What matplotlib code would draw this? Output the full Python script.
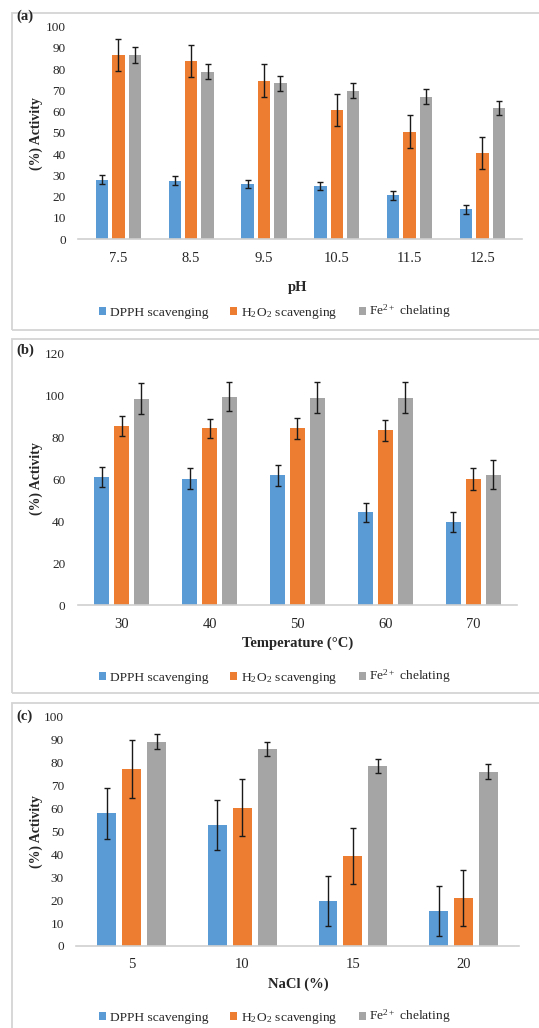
import numpy as np
import matplotlib.pyplot as plt
from matplotlib.patches import Rectangle

plt.rcParams['font.family'] = ['Liberation Serif', 'DejaVu Serif']
plt.rcParams['mathtext.fontset'] = 'stix'

# Panel (a): pH
ph_labels = ['7.5', '8.5', '9.5', '10.5', '11.5', '12.5']
ph_dpph = [28, 27.5, 26, 25, 20.5, 14]
ph_dpph_err = [2, 2, 2, 2, 2, 2]
ph_h2o2 = [86.7, 83.8, 74.6, 60.8, 50.6, 40.5]
ph_h2o2_err = [7.5, 7.6, 7.8, 7.6, 7.8, 7.6]
ph_fe = [86.7, 78.8, 73.3, 69.9, 67, 61.9]
ph_fe_err = [3.8, 3.6, 3.5, 3.4, 3.6, 3.3]

# Panel (b): temperature
temp_labels = ['30', '40', '50', '60', '70']
temp_dpph = [60.9, 60.3, 61.8, 44.2, 39.6]
temp_dpph_err = [4.8, 4.9, 5.0, 4.6, 4.6]
temp_h2o2 = [85.4, 84.3, 84.3, 83.3, 60.1]
temp_h2o2_err = [4.6, 4.6, 5.0, 5.0, 5.2]
temp_fe = [98.4, 99.4, 98.9, 98.9, 62.2]
temp_fe_err = [7.5, 7.1, 7.5, 7.2, 7.0]

# Panel (c): NaCl
nacl_labels = ['5', '10', '15', '20']
nacl_dpph = [57.8, 52.8, 19.6, 15.3]
nacl_dpph_err = [11, 11, 11, 11]
nacl_h2o2 = [77.2, 60.3, 39.2, 20.8]
nacl_h2o2_err = [12.5, 12.4, 12.2, 12.2]
nacl_fe = [89.1, 85.8, 78.5, 76]
nacl_fe_err = [3.2, 3.0, 3.0, 3.2]

series_names = ['DPPH scavenging', r'H$_\mathregular{2}$O$_\mathregular{2}$ scavenging',
                r'Fe$^\mathregular{{2+}}$ chelating']
colors = ['#5B9BD5', '#ED7D31', '#A5A5A5']

W, H = 539, 1028
fig = plt.figure(figsize=(W / 100, H / 100), dpi=100)


def fx(px):
    return px / W


def fy(py):
    return 1 - py / H


# light frames round each panel
frame_color = '#d4d4d4'
for top, bottom in [(13, 330), (339, 693), (703, 1100)]:
    fig.patches.append(Rectangle((fx(12), fy(bottom)), 1.2, fy(top) - fy(bottom),
                                 transform=fig.transFigure, fill=False,
                                 edgecolor=frame_color, linewidth=1.3))

panels = [
    # labels, data, ymax, yticks, axes box px (left, right, y0, ytop), xlim, xlabel, label y, tag
    (ph_labels, [(ph_dpph, ph_dpph_err), (ph_h2o2, ph_h2o2_err), (ph_fe, ph_fe_err)],
     100, np.arange(0, 101, 10), (78.3, 522.4, 239, 26.7), (-0.55, 5.55), 'pH',
     (134, 287, 312), '(a)', 16),
    (temp_labels, [(temp_dpph, temp_dpph_err), (temp_h2o2, temp_h2o2_err), (temp_fe, temp_fe_err)],
     120, np.arange(0, 121, 20), (77.75, 517.2, 605, 353.3), (-0.5, 4.5), 'Temperature (°C)',
     (479, 643, 677), '(b)', 350),
    (nacl_labels, [(nacl_dpph, nacl_dpph_err), (nacl_h2o2, nacl_h2o2_err), (nacl_fe, nacl_fe_err)],
     100, np.arange(0, 101, 10), (76.4, 518.8, 946, 716.7), (-0.5, 3.5), 'NaCl (%)',
     (832, 984, 1017), '(c)', 716),
]

text_color = '#262626'
for labels, series, ymax, yticks, box, xlim, xlabel, ys, tag, tag_y in panels:
    left, right, y0, ytop = box
    ax = fig.add_axes([fx(left), fy(y0), fx(right - left), (y0 - ytop) / H])
    x = np.arange(len(labels))
    width = 0.17
    offsets = [-0.225, 0, 0.225]
    for (vals, errs), off, c, name in zip(series, offsets, colors, series_names):
        ax.bar(x + off, vals, width, color=c, label=name, zorder=2)
        ax.errorbar(x + off, vals, yerr=errs, fmt='none', ecolor='#1a1a1a',
                    elinewidth=1, capsize=2.5, capthick=1, zorder=3)
    ax.set_xlim(*xlim)
    ax.set_ylim(0, ymax)
    ax.set_yticks(yticks)
    ax.set_xticks(x)
    ax.set_xticklabels(labels)
    for s in ['top', 'right', 'left']:
        ax.spines[s].set_visible(False)
    ax.spines['bottom'].set_color('#d0d0d0')
    ax.spines['bottom'].set_linewidth(1.2)
    ax.tick_params(axis='both', length=0, colors=text_color)
    ax.tick_params(axis='y', labelsize=9.5, pad=9)
    ax.tick_params(axis='x', labelsize=10.5, pad=9)
    ax.patch.set_alpha(0)

    ax.set_ylabel('(%) Activity', fontsize=10, fontweight='bold', color=text_color)
    ax.yaxis.label.set_va('center')
    ax.yaxis.set_label_coords(fx(36), fy(ys[0]), transform=fig.transFigure)
    ax.set_xlabel(xlabel, fontsize=10.5, fontweight='bold', color=text_color)
    ax.xaxis.label.set_va('center')
    ax.xaxis.set_label_coords(fx(298), fy(ys[1]), transform=fig.transFigure)

    fig.text(fx(25), fy(tag_y), tag, fontsize=10.5, fontweight='bold',
             ha='center', va='center', color=text_color)

    ax.legend(loc='center', bbox_to_anchor=(fx(275), fy(ys[2])),
              bbox_transform=fig.transFigure, ncol=3, frameon=False,
              fontsize=9.7, handlelength=0.55, handleheight=0.55,
              handletextpad=0.25, columnspacing=1.6, labelcolor=text_color)

fig.savefig('out.png', dpi=100)
